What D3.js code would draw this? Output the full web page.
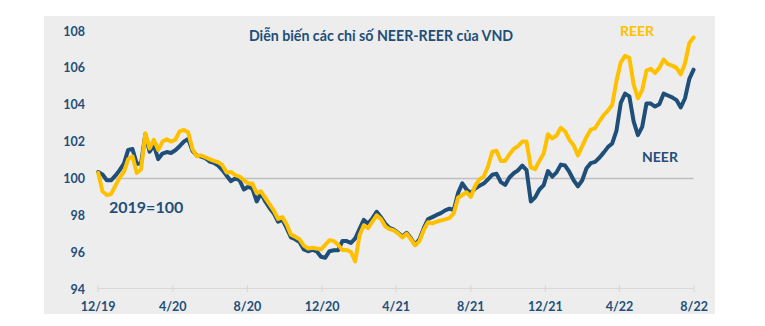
<!DOCTYPE html>
<html>
<head>
<meta charset="utf-8">
<script src="https://cdn.jsdelivr.net/npm/d3@7"></script>
<style>
  html, body { margin: 0; padding: 0; background: #ffffff; }
  svg { display: block; }
  text { font-family: Lato, "Liberation Sans", Arial, sans-serif; font-weight: bold; }
</style>
</head>
<body>
<svg id="chart" width="765" height="326"></svg>
<script>
// Weekly observations (Mondays), Dec 2019 – Aug 2022
const dates = [
  "2019-12-02","2019-12-09","2019-12-16","2019-12-23","2019-12-30",
  "2020-01-06","2020-01-13","2020-01-20","2020-01-27",
  "2020-02-03","2020-02-10","2020-02-17","2020-02-24",
  "2020-03-02","2020-03-09","2020-03-16","2020-03-23","2020-03-30",
  "2020-04-06","2020-04-13","2020-04-20","2020-04-27",
  "2020-05-04","2020-05-11","2020-05-18","2020-05-25",
  "2020-06-01","2020-06-08","2020-06-15","2020-06-22","2020-06-29",
  "2020-07-06","2020-07-13","2020-07-20","2020-07-27",
  "2020-08-03","2020-08-10","2020-08-17","2020-08-24","2020-08-31",
  "2020-09-07","2020-09-14","2020-09-21","2020-09-28",
  "2020-10-05","2020-10-12","2020-10-19","2020-10-26",
  "2020-11-02","2020-11-09","2020-11-16","2020-11-23","2020-11-30",
  "2020-12-07","2020-12-14","2020-12-21","2020-12-28",
  "2021-01-04","2021-01-11","2021-01-18","2021-01-25",
  "2021-02-01","2021-02-08","2021-02-15","2021-02-22",
  "2021-03-01","2021-03-08","2021-03-15","2021-03-22","2021-03-29",
  "2021-04-05","2021-04-12","2021-04-19","2021-04-26",
  "2021-05-03","2021-05-10","2021-05-17","2021-05-24","2021-05-31",
  "2021-06-07","2021-06-14","2021-06-21","2021-06-28",
  "2021-07-05","2021-07-12","2021-07-19","2021-07-26",
  "2021-08-02","2021-08-09","2021-08-16","2021-08-23","2021-08-30",
  "2021-09-06","2021-09-13","2021-09-20","2021-09-27",
  "2021-10-04","2021-10-11","2021-10-18","2021-10-25",
  "2021-11-01","2021-11-08","2021-11-15","2021-11-22","2021-11-29",
  "2021-12-06","2021-12-13","2021-12-20","2021-12-27",
  "2022-01-03","2022-01-10","2022-01-17","2022-01-24","2022-01-31",
  "2022-02-07","2022-02-14","2022-02-21","2022-02-28",
  "2022-03-07","2022-03-14","2022-03-21","2022-03-28",
  "2022-04-04","2022-04-11","2022-04-18","2022-04-25",
  "2022-05-02","2022-05-09","2022-05-16","2022-05-23","2022-05-30",
  "2022-06-06","2022-06-13","2022-06-20","2022-06-27",
  "2022-07-04","2022-07-11","2022-07-18","2022-07-25",
  "2022-08-01"
];

// Nominal effective exchange rate index (2019 = 100)
const neer = [
  100.35,100.22,99.90,99.90,100.15,100.45,100.80,101.55,101.60,100.80,
  100.80,102.40,101.45,101.80,101.05,101.35,101.43,101.38,101.53,101.75,
  102.00,102.15,101.50,101.25,101.18,101.10,100.92,100.85,100.70,100.45,
  100.15,99.85,100.00,99.90,99.40,99.55,99.45,98.75,99.20,98.75,
  98.40,98.10,97.65,97.75,97.30,96.80,96.70,96.55,96.15,96.05,
  96.12,96.05,95.75,95.70,96.05,96.10,96.10,96.60,96.60,96.50,
  96.75,97.25,97.75,97.55,97.83,98.19,97.90,97.55,97.32,97.22,
  97.05,96.85,97.05,96.75,96.40,96.70,97.30,97.80,97.90,98.02,
  98.12,98.27,98.36,98.28,99.20,99.73,99.40,99.20,99.45,99.60,
  99.72,99.95,100.20,100.25,99.80,99.65,100.05,100.28,100.44,100.70,
  100.45,98.75,98.97,99.40,99.64,100.40,100.10,100.33,100.75,100.70,
  100.35,99.90,99.57,99.90,100.55,100.83,100.90,101.12,101.40,101.70,
  101.90,102.60,104.10,104.60,104.45,103.10,102.35,102.80,104.07,104.06,
  103.90,104.03,104.60,104.50,104.40,104.25,103.85,104.35,105.40,105.90
];

// Real effective exchange rate index (2019 = 100)
const reer = [
  100.30,99.30,99.10,99.15,99.60,100.05,100.35,101.05,101.20,100.30,
  100.50,102.45,101.63,102.10,101.55,102.00,102.12,102.00,102.10,102.55,
  102.63,102.50,101.60,101.20,101.25,101.15,101.05,100.95,100.88,100.72,
  100.32,100.35,100.18,100.10,99.91,99.73,99.72,99.20,99.30,98.95,
  98.60,98.25,97.80,97.90,97.50,96.95,96.84,96.70,96.35,96.20,
  96.24,96.20,96.15,96.40,96.65,96.60,96.40,96.11,96.11,96.02,
  95.50,96.90,97.45,97.30,97.65,98.00,97.80,97.40,97.25,97.18,
  97.02,96.80,97.00,96.70,96.37,96.60,97.20,97.62,97.56,97.65,
  97.72,97.78,97.85,98.10,98.95,99.10,99.25,99.00,99.60,99.95,
  100.10,100.65,101.45,101.50,100.95,100.95,101.30,101.60,101.75,102.00,
  102.00,100.60,100.50,100.95,101.35,102.40,102.17,102.33,102.75,102.55,
  102.10,101.80,101.25,101.75,102.25,102.65,102.72,103.10,103.44,103.68,
  104.00,105.30,106.30,106.65,106.55,105.10,104.35,104.80,105.85,105.95,
  105.72,106.00,106.45,106.20,106.12,106.00,105.65,106.25,107.35,107.65
];

const yTicks = [94, 96, 98, 100, 102, 104, 106, 108];
const xTickDates = ["2019-12-01","2020-04-01","2020-08-01","2020-12-01",
                    "2021-04-01","2021-08-01","2021-12-01","2022-04-01","2022-08-01"];
const xTickLabels = ["12/19","4/20","8/20","12/20","4/21","8/21","12/21","4/22","8/22"];

const baseValue = 100;
const title = "Diễn biến các chỉ số NEER-REER của VND";

const parse = d3.utcParse("%Y-%m-%d");
const dateValues = dates.map(parse);
const tickDateValues = xTickDates.map(parse);

const svg = d3.select("#chart");
const C = { blue: "#1F4E79", gold: "#FFC000", panel: "#EDEDED", grid: "#BFBFBF", axis: "#D9D9D9" };
const FONT = "Lato, 'Liberation Sans', Arial, sans-serif";

// plot panel background
svg.append("rect")
  .attr("x", 44).attr("y", 16).attr("width", 671).attr("height", 298)
  .attr("fill", C.panel);

const x = d3.scaleUtc()
  .domain([tickDateValues[0], tickDateValues[tickDateValues.length - 1]])
  .range([97.6, 693.6]);
const y = d3.scaleLinear().domain([94, 108]).range([289, 31]);

// y tick labels (no axis line)
const yAxis = d3.axisLeft(y).tickValues(yTicks).tickSize(0).tickPadding(0);
const gy = svg.append("g").attr("transform", "translate(85,0)").call(yAxis);
gy.select(".domain").remove();
gy.selectAll("text")
  .attr("fill", C.blue).attr("font-size", 12.5)
  .attr("font-family", FONT).attr("font-weight", "bold");

// x axis along the bottom
const xAxis = d3.axisBottom(x)
  .tickValues(tickDateValues)
  .tickFormat((d, i) => xTickLabels[i])
  .tickSize(5).tickSizeOuter(0).tickPadding(9);
const gx = svg.append("g").attr("transform", `translate(0,${y(94) - 1})`).call(xAxis);
gx.select(".domain").attr("stroke", C.axis).attr("stroke-width", 1.2);
gx.selectAll(".tick line").attr("stroke", C.axis).attr("stroke-width", 1.2)
  .attr("y1", -3).attr("y2", 4);
gx.selectAll("text")
  .attr("fill", C.blue).attr("font-size", 12.5)
  .attr("font-family", FONT).attr("font-weight", "bold");

// base-year reference line at 100
svg.append("line")
  .attr("x1", x(tickDateValues[0])).attr("x2", x(tickDateValues[tickDateValues.length - 1]))
  .attr("y1", y(baseValue)).attr("y2", y(baseValue))
  .attr("stroke", C.grid).attr("stroke-width", 1.6);

const line = d3.line()
  .x((d, i) => x(dateValues[i]))
  .y(d => y(d))
  .curve(d3.curveLinear);

svg.append("path").datum(neer)
  .attr("d", line).attr("fill", "none")
  .attr("stroke", C.blue).attr("stroke-width", 4)
  .attr("stroke-linejoin", "round").attr("stroke-linecap", "round");

svg.append("path").datum(reer)
  .attr("d", line).attr("fill", "none")
  .attr("stroke", C.gold).attr("stroke-width", 4)
  .attr("stroke-linejoin", "round").attr("stroke-linecap", "round");

// title and annotations
svg.append("text")
  .attr("x", 381).attr("y", 41).attr("text-anchor", "middle")
  .attr("font-size", 14.2).attr("fill", C.blue).text(title);

svg.append("text")
  .attr("x", 620).attr("y", 36)
  .attr("font-size", 14).attr("fill", C.gold).text("REER");

svg.append("text")
  .attr("x", 642).attr("y", 162)
  .attr("font-size", 14).attr("fill", C.blue).text("NEER");

svg.append("text")
  .attr("x", 109).attr("y", 213)
  .attr("font-size", 16).attr("fill", C.blue).text("2019=100");
</script>
</body>
</html>
